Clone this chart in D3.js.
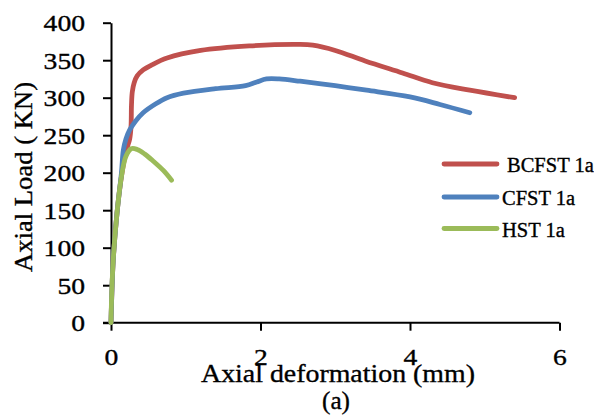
<!DOCTYPE html>
<html>
<head>
<meta charset="utf-8">
<script src="https://cdnjs.cloudflare.com/ajax/libs/d3/7.8.5/d3.min.js"></script>
<style>
  body { margin: 0; background: #fff; }
  text { font-family: "Liberation Serif", "Times New Roman", serif; fill: #000; stroke: #000; stroke-width: 0.35px; }
</style>
</head>
<body>
<svg id="chart" width="594" height="419"></svg>
<script>
// Series data: [deformation mm, load kN]
const bcfst = [[0, 0], [0.03, 84], [0.08, 146], [0.14, 195], [0.2, 228], [0.25, 245],
  [0.268, 262], [0.274, 290], [0.285, 308], [0.31, 320], [0.35, 329], [0.43, 337],
  [0.55, 344], [0.75, 353], [1.2, 363], [1.85, 369], [2.5, 371], [2.7, 370],
  [3.0, 363], [3.4, 349], [3.9, 333], [4.3, 320], [4.8, 310], [5.4, 300]];
const cfst = [[0, 0], [0.03, 84], [0.08, 146], [0.14, 200], [0.165, 230], [0.2, 245],
  [0.25, 257], [0.33, 269], [0.43, 280], [0.6, 292], [0.75, 300], [0.97, 306],
  [1.4, 312], [1.8, 316], [1.95, 321], [2.08, 325], [2.25, 325], [2.53, 322],
  [3.0, 316], [3.42, 310], [4.0, 301], [4.4, 291], [4.8, 280]];
const hst = [[0, 0], [0.01, 40], [0.03, 84], [0.08, 146], [0.14, 195], [0.2, 222],
  [0.27, 232], [0.35, 231], [0.45, 225], [0.57, 215], [0.7, 203], [0.81, 190]];

const seriesNames = ["BCFST 1a", "CFST 1a", "HST 1a"];
const seriesData = [bcfst, cfst, hst];
const colors = ["#C0504D", "#4F81BD", "#9BBB59"];
const xTicks = [0, 2, 4, 6];
const yTicks = [0, 50, 100, 150, 200, 250, 300, 350, 400];

const svg = d3.select("#chart");
svg.append("rect").attr("width", 594).attr("height", 419).attr("fill", "#fff");

const x = d3.scaleLinear().domain([0, 6]).range([111, 559.5]);
const y = d3.scaleLinear().domain([0, 400]).range([322.7, 22.7]);

// squeeze/stretch a text to a given width (original font is Cambria)
function fitWidth(el, w) {
  d3.select(el).attr("textLength", w).attr("lengthAdjust", "spacingAndGlyphs");
}

// Axes
const xAxis = svg.append("g")
  .attr("transform", `translate(0,${y(0)})`)
  .call(d3.axisBottom(x).tickValues(xTicks).tickSize(8).tickSizeOuter(0).tickFormat(d3.format("d")));
const yAxis = svg.append("g")
  .attr("transform", `translate(${x(0)},0)`)
  .call(d3.axisLeft(y).tickValues(yTicks).tickSize(8).tickSizeOuter(0).tickFormat(d3.format("d")));

[xAxis, yAxis].forEach(a => {
  a.select(".domain").attr("stroke", "#000").attr("stroke-width", 2);
  a.selectAll(".tick line").attr("stroke", "#000").attr("stroke-width", 2);
  a.selectAll(".tick text")
    .attr("font-family", "Liberation Serif").attr("font-size", 24).attr("fill", "#000");
});
// the x axis line starts a little left of the y axis, as in the original
xAxis.select(".domain").attr("d", `M${x(0) - 8},0H${x(6)}`);
xAxis.selectAll(".tick text").attr("y", 0).attr("dy", 0).attr("transform", "translate(0,42)");
yAxis.selectAll(".tick text").attr("x", -26).attr("dy", "0.33em").attr("y", 0);
svg.selectAll(".tick text").each(function() {
  fitWidth(this, this.getComputedTextLength() * 1.15);
});

// Lines
const line = d3.line()
  .x(d => x(d[0]))
  .y(d => y(d[1]))
  .curve(d3.curveCatmullRom.alpha(0.5));

seriesData.forEach((data, i) => {
  svg.append("path")
    .datum(data)
    .attr("d", line)
    .attr("fill", "none")
    .attr("stroke", colors[i])
    .attr("stroke-width", 4.8)
    .attr("stroke-linejoin", "round")
    .attr("stroke-linecap", "round");
});

// Axis titles
svg.append("text")
  .attr("x", 338).attr("y", 381.5)
  .attr("text-anchor", "middle")
  .attr("font-size", 26)
  .text("Axial deformation (mm)")
  .each(function() { fitWidth(this, 274); });
svg.append("text")
  .attr("x", 336).attr("y", 408.5)
  .attr("text-anchor", "middle")
  .attr("font-size", 26)
  .text("(a)")
  .each(function() { fitWidth(this, 28); });
svg.append("text")
  .attr("transform", "translate(32,177) rotate(-90)")
  .attr("text-anchor", "middle")
  .attr("font-size", 26)
  .text("Axial Load ( KN)")
  .each(function() { fitWidth(this, 190); });

// Legend
const legendY = [164, 197, 228.5];
const legendTextX = [507, 502, 502];
seriesNames.forEach((name, i) => {
  svg.append("line")
    .attr("x1", 444).attr("x2", 497)
    .attr("y1", legendY[i]).attr("y2", legendY[i])
    .attr("stroke", colors[i])
    .attr("stroke-width", 4.8)
    .attr("stroke-linecap", "round");
  svg.append("text")
    .attr("x", legendTextX[i]).attr("y", legendY[i] + 8)
    .attr("font-size", 20.5)
    .text(name);
});
</script>
</body>
</html>
